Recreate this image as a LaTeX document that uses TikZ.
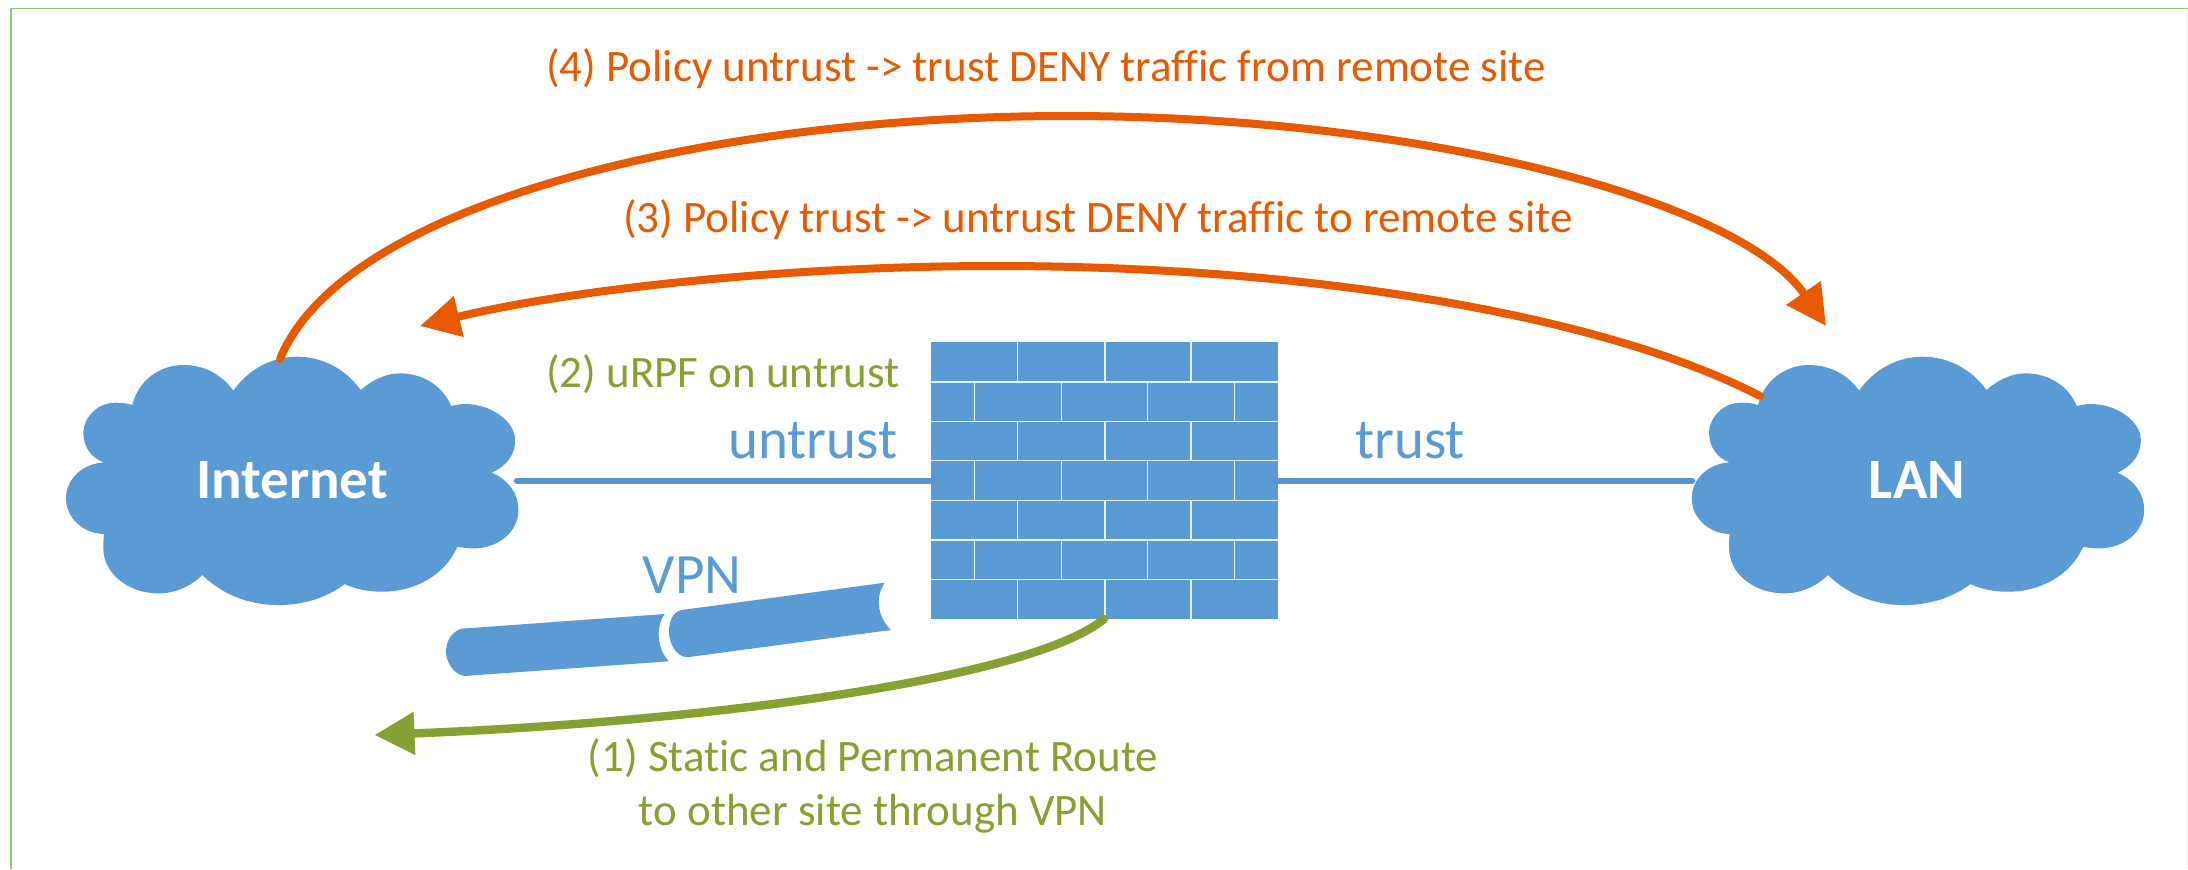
\documentclass[tikz,border=0pt]{standalone}
\usepackage{fontspec}
\setmainfont[Ligatures=NoCommon]{Carlito}
\usetikzlibrary{arrows.meta}
\definecolor{cblue}{HTML}{5B9BD5}
\definecolor{clink}{HTML}{5795CE}
\definecolor{corange}{HTML}{E75A00}
\definecolor{cgreen}{HTML}{86A032}
\definecolor{cframe}{HTML}{93C572}
\tikzset{
  orangeline/.style={draw=corange,line width=4pt,line cap=round,-{Triangle[length=20pt,width=20pt]}},
  greenline/.style={draw=cgreen,line width=4.2pt,line cap=round,-{Triangle[length=20pt,width=20.5pt]}},
  linkline/.style={draw=clink,line width=3.2pt,line cap=round},
  brickline/.style={draw=white!88!cblue,line width=0.65pt},
  orangetext/.style={text=corange,font=\fontsize{22.5pt}{27pt}\selectfont,inner sep=0pt},
  greentext/.style={text=cgreen,font=\fontsize{22.5pt}{27pt}\selectfont,inner sep=0pt},
  bluetext/.style={text=cblue,font=\fontsize{28.5pt}{34pt}\selectfont,inner sep=0pt},
  cloudtext/.style={text=white,font=\fontsize{28.5pt}{34pt}\selectfont\bfseries,inner sep=0pt},
}
\newcommand{\cloudshape}{%
  (277,315) .. controls (295,240) and (360,195) .. (430,195)
  .. controls (490,195) and (545,222) .. (580,272)
  .. controls (625,208) and (695,170) .. (770,170)
  .. controls (845,170) and (915,205) .. (962,270)
  .. controls (1000,237) and (1040,220) .. (1080,220)
  .. controls (1150,220) and (1210,260) .. (1233,318)
  .. controls (1250,314) and (1260,312) .. (1275,312)
  .. controls (1355,312) and (1425,365) .. (1425,420)
  .. controls (1425,465) and (1400,497) .. (1355,518)
  .. controls (1405,540) and (1435,580) .. (1435,630)
  .. controls (1435,695) and (1375,745) .. (1300,745)
  .. controls (1283,745) and (1268,743) .. (1252,740)
  .. controls (1215,825) and (1125,875) .. (1025,875)
  .. controls (985,875) and (945,867) .. (914,852)
  .. controls (860,893) and (790,915) .. (715,915)
  .. controls (625,915) and (545,882) .. (487,825)
  .. controls (450,860) and (405,880) .. (355,880)
  .. controls (265,880) and (190,820) .. (190,745)
  .. controls (190,730) and (190,715) .. (192,702)
  .. controls (125,700) and (78,650) .. (78,595)
  .. controls (78,535) and (130,490) .. (192,487)
  .. controls (155,475) and (130,440) .. (130,400)
  .. controls (130,350) and (175,308) .. (225,308)
  .. controls (245,308) and (262,310) .. (277,315) -- cycle}
\begin{document}
\begin{tikzpicture}[x=0.5pt,y=-0.5pt]
\useasboundingbox (0,0) rectangle (2188,869);
\fill[white] (0,0) rectangle (2188,869);
\draw[cframe,line width=0.8pt] (2188,8.5) -- (11,8.5) -- (11,869);
\draw[black!6,line width=0.5pt] (2187.4,9) -- (2187.4,869);

% clouds
\begin{scope}[shift={(40,300)},x=0.1667pt,y=-0.1667pt]
  \fill[cblue] \cloudshape;
\end{scope}
\begin{scope}[shift={(1665.7,300)},x=0.1667pt,y=-0.1667pt]
  \fill[cblue] \cloudshape;
\end{scope}
\node[cloudtext] (internet) at (292,480) {Internet};
\node[cloudtext] (lan) at (1917,480) {LAN};

% named ends
\coordinate (netE) at (517,480.7);
\coordinate (netN) at (280,359);
\coordinate (netArrow) at (420,326);
\coordinate (lanW) at (1692,480.7);
\coordinate (lanNW) at (1760,396);
\coordinate (lanArrow) at (1826,326);
\coordinate (wallW) at (933,480.7);
\coordinate (wallE) at (1276,480.7);
\coordinate (wallS) at (1104,619);
\coordinate (routeEnd) at (374.5,735);
\coordinate (top4) at (1067,116);
\coordinate (top3) at (997,266);

% firewall
\fill[cblue] (930.7,342.3) rectangle (1278.3,619.3);
\foreach \y in {382,421.3,460.7,500.3,540,579.7}
  \draw[brickline] (930.7,\y) -- (1278.3,\y);
\foreach \x in {1017.7,1105,1191} {
  \draw[brickline] (\x,342.3) -- (\x,382);
  \draw[brickline] (\x,421.3) -- (\x,460.7);
  \draw[brickline] (\x,500.3) -- (\x,540);
  \draw[brickline] (\x,579.7) -- (\x,619.3);
}
\foreach \x in {974.7,1061.3,1147.7,1234.7} {
  \draw[brickline] (\x,382) -- (\x,421.3);
  \draw[brickline] (\x,460.7) -- (\x,500.3);
  \draw[brickline] (\x,540) -- (\x,579.7);
}

% links
\draw[linkline] (netE) -- (wallW);
\draw[linkline] (wallE) -- (lanW);

% VPN pipe
\fill[cblue] (461.2,628.7) -- (664.8,614)
  .. controls (656,625) and (656,648) .. (668.9,661.3)
  -- (464.8,676) .. controls (452,674) and (446,660) .. (446,651.7)
  .. controls (446,642) and (451,632) .. (461.2,628.7) -- cycle;
\fill[cblue] (681.6,610) -- (884.7,582.7)
  .. controls (876,595) and (876,615) .. (890.8,630)
  -- (686.7,657.3) .. controls (675,656) and (669,642) .. (669,631.7)
  .. controls (669,622) and (672,612) .. (681.6,610) -- cycle;

% arrows
\draw[orangeline] (netN) .. controls (345,200) and (720,116) .. (top4)
  .. controls (1420,116) and (1740,200) .. (lanArrow);
\draw[orangeline] (lanNW) .. controls (1610,318) and (1320,266) .. (top3)
  .. controls (770,266) and (560,292) .. (netArrow);
\draw[greenline] (wallS) .. controls (1030,680) and (700,722) .. (routeEnd);

% labels
\node[orangetext] (l4) at (1046,69) {(4) Policy untrust -> trust DENY traffic from remote site};
\node[orangetext] (l3) at (1098,220) {(3) Policy trust -> untrust DENY traffic to remote site};
\node[greentext] (l2) at (723,374) {(2) uRPF on untrust};
\node[bluetext] (lu) at (813,441) {untrust};
\node[bluetext] (lt) at (1410,441) {trust};
\node[bluetext] (lv) at (692,575) {VPN};
\node[greentext,align=center] (l1) at (873,786) {(1) Static and Permanent Route\\to other site through VPN};
\end{tikzpicture}
\end{document}
